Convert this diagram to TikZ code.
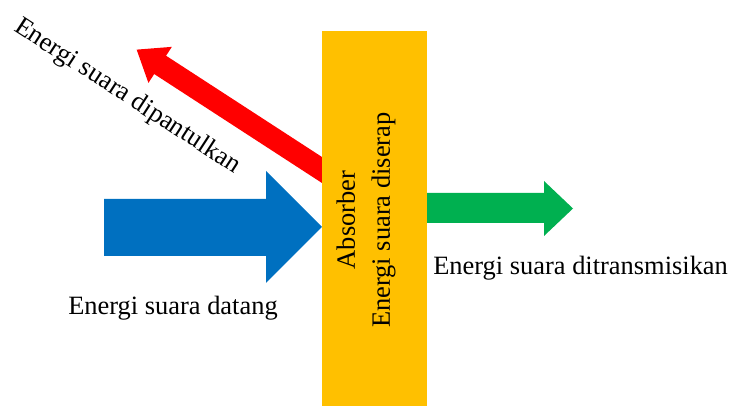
\documentclass[tikz,border=0pt]{standalone}
\usepackage{fontspec}
\setmainfont{Liberation Serif}
\usepackage{xcolor}
\definecolor{absorbergold}{HTML}{FFC000}
\definecolor{datangblue}{HTML}{0070C0}
\definecolor{transmisigreen}{HTML}{00B050}
\definecolor{pantulred}{HTML}{FF0000}
\tikzset{
  lbl/.style={font=\fontsize{18.8}{24.9}\selectfont, inner sep=0pt},
}

\begin{document}
\begin{tikzpicture}[x=0.025cm, y=-0.025cm]
\useasboundingbox (0,0) rectangle (732,406);

\fill[pantulred, shift={(322,170)}, rotate=147] (-20,-10.9)--(193,-10.9)--(193,-21.5)--(221,0)--(193,21.5)--(193,10.9)--(-20,10.9)--cycle;
\fill[datangblue] (104,199)--(266,199)--(266,171)--(322,227)--(266,283)--(266,256)--(104,256)--cycle;
\fill[absorbergold] (322,31) rectangle (427,406);
\fill[transmisigreen] (427,193)--(544,193)--(544,181)--(573,208.5)--(544,236)--(544,223)--(427,223)--cycle;

\node[lbl, rotate=90, align=center] (serap) at (366,220) {Absorber\\Energi suara diserap};
\node[lbl, anchor=base west] (datang) at (68,315) {Energi suara datang};
\node[lbl, anchor=base west] (transmisi) at (433,275) {Energi suara ditransmisikan};
\node[lbl, anchor=base west, rotate=-33] (pantul) at (13,30) {Energi suara dipantulkan};
\end{tikzpicture}
\end{document}
